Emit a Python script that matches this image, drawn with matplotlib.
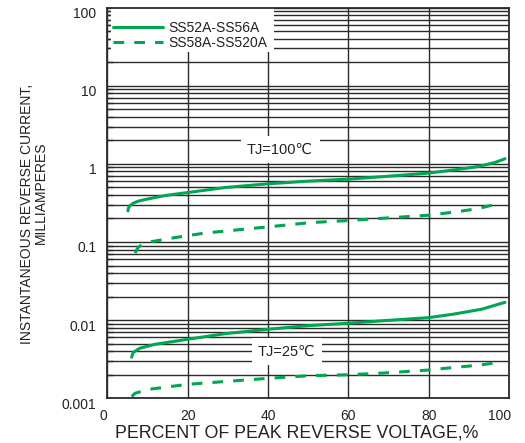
import matplotlib
matplotlib.use("Agg")
import matplotlib.pyplot as plt
from matplotlib.ticker import LogLocator, FixedLocator, NullFormatter
from matplotlib.transforms import ScaledTranslation
from matplotlib.patches import Rectangle

plt.rcParams['font.family'] = ['Liberation Sans', 'DejaVu Sans']

# ---- data (percent of peak reverse voltage, current mA) ----
x_s100 = [5.15, 5.24, 5.65, 6.5, 7.7, 9.4, 14.4, 20, 29.3, 40, 50, 60, 69, 80, 86.5, 92.4, 96.5, 99]
y_s100 = [0.250, 0.271, 0.292, 0.314, 0.333, 0.349, 0.393, 0.429, 0.497, 0.555, 0.60, 0.637, 0.688, 0.76, 0.838, 0.924, 1.04, 1.16]

x_d100 = [6.9, 7.3, 7.7, 9.0, 11, 17.4, 24.3, 40, 50.5, 60, 69, 80, 87.4, 92.4, 97.8]
y_d100 = [0.072, 0.079, 0.0858, 0.094, 0.101, 0.115, 0.130, 0.156, 0.177, 0.188, 0.202, 0.220, 0.245, 0.268, 0.314]

x_s25 = [6.07, 6.3, 6.5, 8.1, 11.9, 20, 29.3, 40, 50, 60, 69, 80, 86.5, 93.2, 99]
y_s25 = [0.00335, 0.0037, 0.00388, 0.00437, 0.00491, 0.00569, 0.00671, 0.00764, 0.0085, 0.00912, 0.00986, 0.01076, 0.012, 0.0138, 0.0169]

x_d25 = [6.07, 6.9, 10.2, 20, 40, 50.5, 60, 69, 80, 86.5, 92.4, 97.8]
y_d25 = [0.00105, 0.00116, 0.0013, 0.00151, 0.0018, 0.00195, 0.0020, 0.00211, 0.0023, 0.00249, 0.00265, 0.00289]

series_labels = ["SS52A-SS56A", "SS58A-SS520A"]
x_ticks = [0, 20, 40, 60, 80, 100]
x_ticklabels = ["0", "20", "40", "60", "80", "100"]
y_ticks = [0.001, 0.01, 0.1, 1, 10, 100]
y_ticklabels = ["0.001", "0.01", "0.1", "1", "10", "100"]
temp_labels = ["TJ=100\u2103", "TJ=25\u2103"]

GREEN = '#00a651'
GRID = '#2b2b2b'
TXT = '#222222'

fig = plt.figure(figsize=(5.25, 4.43), dpi=100)
ax = fig.add_axes([107.3/525, 1 - 398.3/443, (509 - 107.3)/525, (398.3 - 7.5)/443])

ax.set_yscale('log')
ax.set_xlim(0, 100)
ax.set_ylim(0.001, 100)

ax.yaxis.set_major_locator(FixedLocator(y_ticks))
ax.yaxis.set_minor_locator(LogLocator(base=10, subs=[2, 3, 4, 5, 6, 7, 8, 9], numticks=20))
ax.yaxis.set_minor_formatter(NullFormatter())
ax.set_yticks(y_ticks)
ax.set_yticklabels(y_ticklabels)
ax.set_xticks(x_ticks)
ax.set_xticklabels(x_ticklabels)

ax.grid(True, which='major', axis='both', color=GRID, lw=1.0)
ax.grid(True, which='minor', axis='y', color=GRID, lw=1.0)
ax.set_axisbelow(True)

ax.tick_params(axis='x', which='both', length=0, pad=8, labelsize=10, labelcolor=TXT)
ax.tick_params(axis='y', which='major', length=0, pad=8, labelsize=10, labelcolor=TXT)
ax.tick_params(axis='y', which='minor', direction='in', length=4, width=1.0, color=GRID)

for lab in ax.get_yticklabels():
    lab.set_transform(lab.get_transform() + ScaledTranslation(0, -5/100, fig.dpi_scale_trans))
xl = ax.get_xticklabels()
xl[0].set_transform(xl[0].get_transform() + ScaledTranslation(-4/100, 0, fig.dpi_scale_trans))
xl[-1].set_transform(xl[-1].get_transform() + ScaledTranslation(-9/100, 0, fig.dpi_scale_trans))

for sp in ax.spines.values():
    sp.set_color(GRID)
    sp.set_linewidth(1.3)
    sp.set_zorder(6)

dash = (0, (3.5, 3.3))
ax.plot(x_s100, y_s100, color=GREEN, lw=2.2, solid_capstyle='round', label=series_labels[0], zorder=4)
ax.plot(x_d100, y_d100, color=GREEN, lw=2.2, ls=dash, label=series_labels[1], zorder=4)
ax.plot(x_s25, y_s25, color=GREEN, lw=2.2, solid_capstyle='round', zorder=4)
ax.plot(x_d25, y_d25, color=GREEN, lw=2.2, ls=dash, zorder=4)

bb = dict(boxstyle='square,pad=0.45', facecolor='white', edgecolor='none')
ax.text(43, 1.51, temp_labels[0], ha='center', va='center', fontsize=10.5,
        color=TXT, bbox=bb, zorder=3)
ax.text(44.7, 0.00392, temp_labels[1], ha='center', va='center', fontsize=10.5,
        color=TXT, bbox=bb, zorder=3)

# white background behind the legend (covers grid lines)
ax.add_patch(Rectangle((0.008, 1 - 44.5/390.8), 0.4058, 44.5/390.8, transform=ax.transAxes,
                       facecolor='white', edgecolor='none', zorder=4.5))
leg = ax.legend(loc='upper left', bbox_to_anchor=(0.0142, 0.9655), fontsize=10,
                frameon=False, handlelength=3.6, handletextpad=0.4,
                labelspacing=0.05, borderpad=0.0, borderaxespad=0.0)
for t in leg.get_texts():
    t.set_color(TXT)
leg.set_zorder(5)

fig.text(296.5/525, 1 - 433/443, "PERCENT OF PEAK REVERSE VOLTAGE,%", ha='center', va='center',
         fontsize=12.8, color=TXT)
fig.text(27.4/525, 1 - 214/443, "INSTANTANEOUS REVERSE CURRENT,", ha='center', va='center',
         rotation=90, fontsize=10, color=TXT)
fig.text(40.8/525, 1 - 193/443, "MILLIAMPERES", ha='center', va='center',
         rotation=90, fontsize=10, color=TXT)

fig.savefig('out.png', dpi=100, facecolor='white')
